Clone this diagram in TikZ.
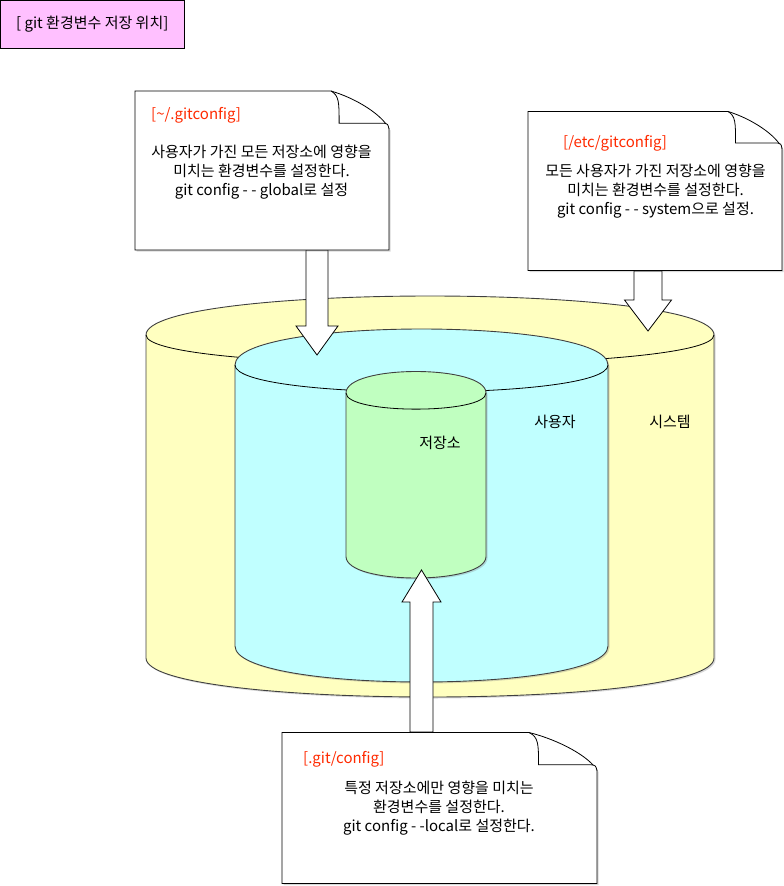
\documentclass[tikz,border=0pt]{standalone}
\usepackage{fontspec}
\setmainfont{Noto Sans CJK KR}
\usetikzlibrary{shadows}

\definecolor{sysyellow}{HTML}{FFFFC0}
\definecolor{usercyan}{HTML}{C0FFFF}
\definecolor{repogreen}{HTML}{C0FFC0}
\definecolor{titlepink}{HTML}{FFC0FF}
\definecolor{pathred}{HTML}{FF2A00}

\begin{document}
\begin{tikzpicture}[x=1pt, y=-1pt,
        every node/.style={inner sep=0pt, font=\fontsize{15}{19}\selectfont},
        titlebox/.style={draw, fill=titlepink, line width=0.9pt, minimum width=183.4, minimum height=47.4},
        cylside/.style={draw=black!75, line width=0.9pt, drop shadow={shadow xshift=1.5pt, shadow yshift=-1.5pt, opacity=0.3}},
        cyltop/.style={draw=black, line width=0.8pt},
        blockarrow/.style={draw=black, fill=white, line width=0.8pt},
        notebox/.style={draw=black, fill=white, line width=0.8pt},
        noteshadow/.style={notebox, drop shadow={shadow xshift=1.5pt, shadow yshift=-1.5pt, opacity=0.3}},
        pathlabel/.style={text=pathred, anchor=west},
        notebody/.style={align=center}]
    \useasboundingbox (0,0) rectangle (784,886);

    % title
    \node[titlebox] (title) at (92.3,24.3) {[ git 환경변수 저장 위치]};

    % cylinders: system, user, repository
    \foreach \cx/\cy/\cw/\ch/\cd/\cf in {146/296/568/401/39/sysyellow,
                                          235/329/373/353/36/usercyan,
                                          346/371.5/140/206.5/21.5/repogreen}{
        \filldraw[cylside, fill=\cf] (\cx,\cy+\cd)
            .. controls (\cx,\cy-\cd/3) and (\cx+\cw,\cy-\cd/3) .. (\cx+\cw,\cy+\cd)
            -- (\cx+\cw,\cy+\ch-\cd)
            .. controls (\cx+\cw,\cy+\ch+\cd/3) and (\cx,\cy+\ch+\cd/3) .. (\cx,\cy+\ch-\cd)
            -- cycle;
        \draw[cyltop] (\cx,\cy+\cd)
            .. controls (\cx,\cy+2*\cd) and (\cx+\cw,\cy+2*\cd) .. (\cx+\cw,\cy+\cd);
    }

    \node (repolabel) at (440,443) {저장소};
    \node (userlabel) at (555,422) {사용자};
    \node (systemlabel) at (670,422) {시스템};

    % block arrows
    \foreach \ax/\ay/\ab/\at/\as/\ah in {317/250/326/355/11/21,
                                          648/271/300/331/14/23.5,
                                          421.5/732/602/570/11.5/19.5}{
        \filldraw[blockarrow] (\ax-\as,\ay) -- (\ax-\as,\ab) -- (\ax-\ah,\ab) -- (\ax,\at)
            -- (\ax+\ah,\ab) -- (\ax+\as,\ab) -- (\ax+\as,\ay) -- cycle;
    }

    % notes with folded corner
    \foreach \nx/\ny/\nw/\nh/\nf/\ng in {135/91/254/159/58/38,
                                          528/111.5/254/159/54/37,
                                          282/732.5/315/151/68/38}{
        \filldraw[noteshadow] (\nx,\ny) -- (\nx+\nw-\nf,\ny)
            .. controls (\nx+\nw-0.55*\nf,\ny+0.2*\ng) and (\nx+\nw-0.1*\nf,\ny+0.65*\ng) .. (\nx+\nw,\ny+\ng)
            -- (\nx+\nw,\ny+\nh) -- (\nx,\ny+\nh) -- cycle;
        \draw[notebox] (\nx+\nw-\nf,\ny)
            .. controls (\nx+\nw-0.86*\nf,\ny+0.12*\ng) and (\nx+\nw-0.86*\nf,\ny+0.3*\ng) .. (\nx+\nw-0.86*\nf,\ny+0.85*\ng)
            -- (\nx+\nw-0.08*\nf,\ny+0.85*\ng)
            .. controls (\nx+\nw-0.02*\nf,\ny+0.87*\ng) .. (\nx+\nw,\ny+\ng);
    }

    \node[pathlabel] (globalpath) at (151,115) {[\textasciitilde/.gitconfig]};
    \node[notebody] (globaltext) at (261.5,172) {사용자가 가진 모든 저장소에 영향을\\미치는 환경변수를 설정한다.\\git config - - global로 설정};

    \node[pathlabel] (systempath) at (563,143) {[/etc/gitconfig]};
    \node[notebody] (systemtext) at (655.5,191) {모든 사용자가 가진 저장소에 영향을\\미치는 환경변수를 설정한다.\\git config - - system으로 설정.};

    \node[pathlabel] (localpath) at (303,759) {[.git/config]};
    \node[notebody] (localtext) at (439,808) {특정 저장소에만 영향을 미치는\\환경변수를 설정한다.\\git config - -local로 설정한다.};
\end{tikzpicture}
\end{document}
